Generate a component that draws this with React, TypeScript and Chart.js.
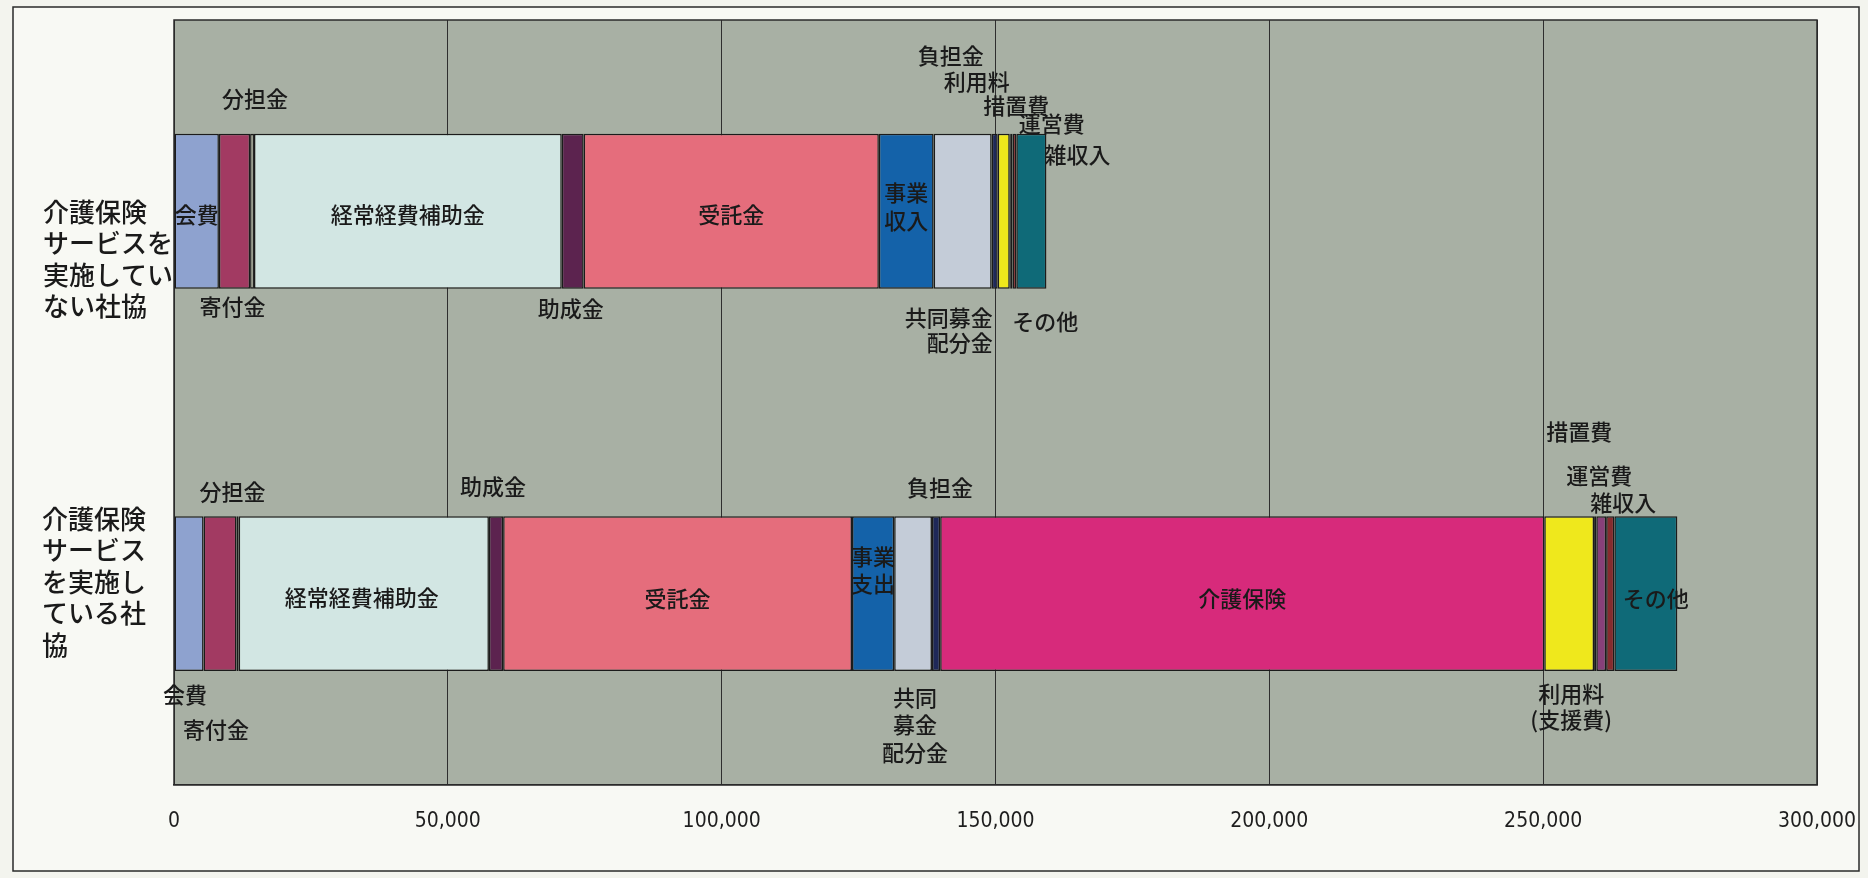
import React, { useEffect, useRef } from 'react';
import { Chart, registerables } from 'chart.js';

Chart.register(...registerables);

// ---- data ----
const categories = ['介護保険サービスを実施していない社協', '介護保険サービスを実施している社協'];
const categoryLines = [
  ['介護保険', 'サービスを', '実施してい', 'ない社協'],
  ['介護保険', 'サービス', 'を実施し', 'ている社', '協'],
];
const seriesNames = ['会費', '寄付金', '分担金', '経常経費補助金', '助成金', '受託金', '事業収入', '共同募金配分金', '負担金', '介護保険', '利用料', '措置費', '運営費', '雑収入', 'その他'];
const kaihi = [8200, 5400];
const kifukin = [5700, 6000];
const buntankin = [700, 400];
const keijoHojokin = [56200, 45700];
const joseikin = [4000, 2600];
const jutakukin = [53900, 63700];
const jigyoShunyu = [10000, 7700];
const kyodoBokin = [10600, 6900];
const futankin = [1100, 1500];
const kaigoHoken = [0, 110300];
const riyoryo = [2200, 9100];
const sochihi = [200, 400];
const uneihi = [300, 1800];
const zatsuShunyu = [700, 1500];
const sonota = [5500, 11500];
const seriesValues = [kaihi, kifukin, buntankin, keijoHojokin, joseikin, jutakukin, jigyoShunyu, kyodoBokin, futankin, kaigoHoken, riyoryo, sochihi, uneihi, zatsuShunyu, sonota];
const xTickLabels = ['0', '50,000', '100,000', '150,000', '200,000', '250,000', '300,000'];

// ---- styles ----
const seriesColors = ['#8ea2cf', '#a23a62', '#e6ead2', '#d2e6e3', '#5c234f', '#e56d7c', '#1462a9', '#c4ccd8', '#1e2858', '#d72a7b', '#efe81c', '#38c4cc', '#874079', '#862b2e', '#0f6a78'];

type Lbl = { s: number; b: number; lines: string[]; dx: number; dy: number; lh?: number; align?: CanvasTextAlign };
const segLabels: Lbl[] = [
  { s: 2, b: 0, lines: ['分担金'], dx: 3, dy: -113 },
  { s: 0, b: 0, lines: ['会費'], dx: 0, dy: 3 },
  { s: 1, b: 0, lines: ['寄付金'], dx: -2, dy: 95 },
  { s: 3, b: 0, lines: ['経常経費補助金'], dx: 0, dy: 3 },
  { s: 4, b: 0, lines: ['助成金'], dx: -2, dy: 97 },
  { s: 5, b: 0, lines: ['受託金'], dx: 0, dy: 3 },
  { s: 6, b: 0, lines: ['事業', '収入'], dx: 0, dy: -19, lh: 28 },
  { s: 7, b: 0, lines: ['共同募金', '配分金'], dx: 30, dy: 106, lh: 25, align: 'right' },
  { s: 8, b: 0, lines: ['負担金'], dx: -44, dy: -156 },
  { s: 10, b: 0, lines: ['利用料'], dx: -27, dy: -130 },
  { s: 11, b: 0, lines: ['措置費'], dx: 6, dy: -106 },
  { s: 12, b: 0, lines: ['運営費'], dx: 40, dy: -88 },
  { s: 13, b: 0, lines: ['雑収入'], dx: 63, dy: -57 },
  { s: 14, b: 0, lines: ['その他'], dx: 14, dy: 110 },
  { s: 0, b: 1, lines: ['会費'], dx: -4, dy: 101 },
  { s: 1, b: 1, lines: ['寄付金'], dx: -4, dy: 136 },
  { s: 2, b: 1, lines: ['分担金'], dx: -5, dy: -102 },
  { s: 3, b: 1, lines: ['経常経費補助金'], dx: -2, dy: 4 },
  { s: 4, b: 1, lines: ['助成金'], dx: -3, dy: -107 },
  { s: 5, b: 1, lines: ['受託金'], dx: 0, dy: 5 },
  { s: 6, b: 1, lines: ['事業', '支出'], dx: 0, dy: -37, lh: 27 },
  { s: 7, b: 1, lines: ['共同', '募金', '配分金'], dx: 2, dy: 104, lh: 27.5 },
  { s: 8, b: 1, lines: ['負担金'], dx: 4, dy: -106 },
  { s: 9, b: 1, lines: ['介護保険'], dx: 0, dy: 5 },
  { s: 10, b: 1, lines: ['利用料', '(支援費)'], dx: 2, dy: 100, lh: 26 },
  { s: 11, b: 1, lines: ['措置費'], dx: -16, dy: -162 },
  { s: 12, b: 1, lines: ['運営費'], dx: -2, dy: -118 },
  { s: 13, b: 1, lines: ['雑収入'], dx: 13, dy: -91 },
  { s: 14, b: 1, lines: ['その他'], dx: 10, dy: 5 },
];
const catLabelStyle = [
  { x: 43, dy: 0.5 },
  { x: 42, dy: -74.5 },
];

const JP = '"Noto Sans CJK JP", "Noto Sans", sans-serif';
const NUM = '"Liberation Sans Narrow", "DejaVu Sans Condensed", "Liberation Sans", sans-serif';

const decor = {
  id: 'decor',
  beforeDraw(chart: any) {
    const { ctx, chartArea: a, width, height } = chart;
    ctx.save();
    ctx.fillStyle = '#f3f4ee';
    ctx.fillRect(0, 0, width, height);
    ctx.fillStyle = '#f8f9f4';
    ctx.fillRect(13, 7, 1846, 864);
    ctx.strokeStyle = '#2a2a2a';
    ctx.lineWidth = 1.5;
    ctx.strokeRect(13, 7, 1846, 864);
    ctx.fillStyle = '#a8b0a4';
    ctx.fillRect(a.left, a.top, a.right - a.left, a.bottom - a.top);
    ctx.restore();
  },
  beforeDatasetsDraw(chart: any) {
    const { ctx, chartArea: a } = chart;
    ctx.save();
    ctx.strokeStyle = '#2a2a2a';
    ctx.lineWidth = 1.5;
    ctx.strokeRect(a.left, a.top, a.right - a.left, a.bottom - a.top);
    ctx.restore();
  },
  afterDatasetsDraw(chart: any) {
    const { ctx } = chart;
    ctx.save();
    ctx.fillStyle = '#1a1a1a';
    ctx.textBaseline = 'middle';
    ctx.font = `500 22px ${JP}`;
    segLabels.forEach((l) => {
      const el = chart.getDatasetMeta(l.s).data[l.b] as any;
      if (!el) return;
      const cx = (el.x + el.base) / 2 + l.dx;
      const cy = el.y + l.dy;
      ctx.textAlign = l.align || 'center';
      const lh = l.lh || 26;
      l.lines.forEach((t, i) => ctx.fillText(t, cx, cy + i * lh));
    });
    ctx.font = `500 26px ${JP}`;
    ctx.textAlign = 'left';
    categoryLines.forEach((lines, ci) => {
      const el = chart.getDatasetMeta(0).data[ci] as any;
      const st = catLabelStyle[ci];
      lines.forEach((t, i) => ctx.fillText(t, st.x, el.y + st.dy + i * 31.5));
    });
    ctx.restore();
  },
};

export default function App() {
  const ref = useRef<HTMLCanvasElement>(null);
  useEffect(() => {
    if (!ref.current) return;
    const chart = new Chart(ref.current, {
      type: 'bar',
      data: {
        labels: categories,
        datasets: seriesNames.map((name, i) => ({
          label: name,
          data: seriesValues[i],
          backgroundColor: seriesColors[i],
          borderColor: '#1b1b1b',
          borderWidth: 1.5,
          borderSkipped: false,
          barPercentage: 0.405,
          categoryPercentage: 1,
        })),
      },
      options: {
        indexAxis: 'y',
        animation: false,
        responsive: false,
        devicePixelRatio: 1,
        layout: { padding: { left: 174, right: 51, top: 20, bottom: 44 } },
        plugins: { legend: { display: false }, tooltip: { enabled: false } },
        scales: {
          x: {
            stacked: true,
            min: 0,
            max: 300000,
            ticks: {
              stepSize: 50000,
              autoSkip: false,
              maxRotation: 0,
              color: '#1e1e1e',
              padding: 0,
              font: { family: NUM, size: 21 },
              callback: (_v: any, i: number) => xTickLabels[i],
            },
            grid: { color: '#2e2e2e', lineWidth: 1, drawTicks: true, tickLength: 24, tickColor: 'rgba(0,0,0,0)' },
            border: { display: true, color: '#2a2a2a', width: 1.5 },
          },
          y: { stacked: true, display: false },
        },
      },
      plugins: [decor],
    } as any);
    return () => chart.destroy();
  }, []);
  return (
    <div style={{ position: 'absolute', left: 0, top: 0, width: 1868, height: 878 }}>
      <canvas ref={ref} width={1868} height={878} style={{ width: 1868, height: 878, display: 'block' }} />
    </div>
  );
}
